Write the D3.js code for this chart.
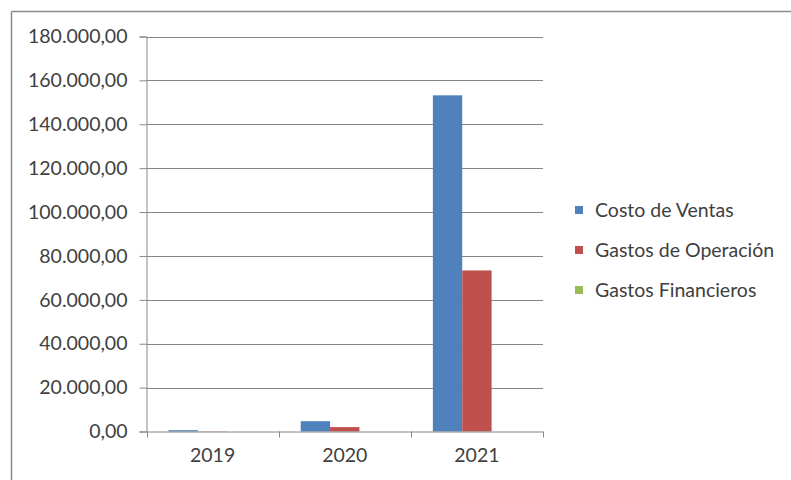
<!DOCTYPE html>
<html>
<head>
<meta charset="utf-8">
<script src="https://cdn.jsdelivr.net/npm/d3@7"></script>
<style>
  html, body { margin: 0; padding: 0; background: #fff; }
  svg { display: block; }
  text { font-family: Lato, "Open Sans", "Liberation Sans", sans-serif; fill: #404040; }
</style>
</head>
<body>
<svg id="chart" width="791" height="480"></svg>
<script>
// Years on the category axis
const years = ["2019", "2020", "2021"];
// Series names, in drawing order
const seriesNames = ["Costo de Ventas", "Gastos de Operación", "Gastos Financieros"];
// Values per series, one per year
const costoVentas = [600, 4700, 153200];
const gastosOperacion = [100, 2000, 73400];
const gastosFinancieros = [0, 0, 0];
// Value-axis ticks
const yTicks = [0, 20000, 40000, 60000, 80000, 100000, 120000, 140000, 160000, 180000];
const seriesColors = ["#4F81BD", "#C0504D", "#9BBB59"];

const seriesValues = [costoVentas, gastosOperacion, gastosFinancieros];
const fontSize = 19.5;

const svg = d3.select("#chart");

// Chart frame: top and left edges
svg.append("line").attr("x1", 11.5).attr("x2", 791).attr("y1", 11.5).attr("y2", 11.5)
  .attr("stroke", "#8a8a8a").attr("stroke-width", 1.5);
svg.append("line").attr("x1", 11.5).attr("x2", 11.5).attr("y1", 11.5).attr("y2", 480)
  .attr("stroke", "#8a8a8a").attr("stroke-width", 1.5);

const plot = { left: 146.5, right: 543, top: 36.5, bottom: 431.5 };

const x = d3.scaleBand().domain(years).range([plot.left, plot.right]).paddingInner(0).paddingOuter(0);
const y = d3.scaleLinear().domain([0, 180000]).range([plot.bottom, plot.top]);

// Inner band for bars (gap width 150%)
const barW = x.bandwidth() / (seriesNames.length + 1.5);
const xs = d3.scaleBand().domain(seriesNames)
  .range([0, barW * seriesNames.length]);

const fmt = v => {
  const s = d3.format(",.2f")(v);
  return s.replace(/,/g, "#").replace(/\./g, ",").replace(/#/g, ".");
};

// Gridlines
svg.append("g").selectAll("line").data(yTicks.filter(d => d > 0)).join("line")
  .attr("x1", plot.left).attr("x2", plot.right)
  .attr("y1", d => Math.round(y(d)) + 0.5).attr("y2", d => Math.round(y(d)) + 0.5)
  .attr("stroke", "#868686").attr("stroke-width", 1);

// Bars
const groups = svg.append("g").selectAll("g").data(years).join("g")
  .attr("transform", d => `translate(${x(d) + (x.bandwidth() - barW * seriesNames.length) / 2},0)`);
groups.selectAll("rect")
  .data((yr, i) => seriesNames.map((s, k) => ({ s, k, v: seriesValues[k][i] })))
  .join("rect")
  .attr("x", d => xs(d.s))
  .attr("width", xs.bandwidth())
  .attr("y", d => y(d.v))
  .attr("height", d => plot.bottom - y(d.v))
  .attr("fill", d => seriesColors[d.k]);

// Value axis
const yAxis = svg.append("g").attr("transform", `translate(${plot.left},0)`)
  .call(d3.axisLeft(y).tickValues(yTicks).tickFormat(fmt).tickSize(7).tickPadding(12));
yAxis.select(".domain").attr("stroke", "#868686");
yAxis.selectAll(".tick line").attr("stroke", "#868686");
yAxis.selectAll(".tick text").attr("font-size", fontSize).attr("fill", "#404040")
  .attr("font-family", "Lato, 'Open Sans', sans-serif");

// Category axis
const xAxis = svg.append("g").attr("transform", `translate(0,${plot.bottom})`)
  .call(d3.axisBottom(x).tickSize(0).tickPadding(17));
xAxis.select(".domain").attr("stroke", "#868686");
xAxis.selectAll(".tick text").attr("font-size", fontSize).attr("fill", "#404040")
  .attr("font-family", "Lato, 'Open Sans', sans-serif");
// Tick marks at category boundaries
const bounds = years.map(d => x(d)).concat([plot.right]);
svg.append("g").selectAll("line").data(bounds).join("line")
  .attr("x1", d => Math.round(d) + 0.5).attr("x2", d => Math.round(d) + 0.5)
  .attr("y1", plot.bottom).attr("y2", plot.bottom + 6)
  .attr("stroke", "#868686");

// Legend
const legend = svg.append("g").selectAll("g").data(seriesNames).join("g")
  .attr("transform", (d, i) => `translate(575,${210 + i * 40})`);
legend.append("rect").attr("x", 0).attr("y", -4).attr("width", 8).attr("height", 8)
  .attr("fill", (d, i) => seriesColors[i]);
legend.append("text").attr("x", 20).attr("y", 0).attr("dy", "0.35em")
  .attr("font-size", fontSize).text(d => d);
</script>
</body>
</html>
